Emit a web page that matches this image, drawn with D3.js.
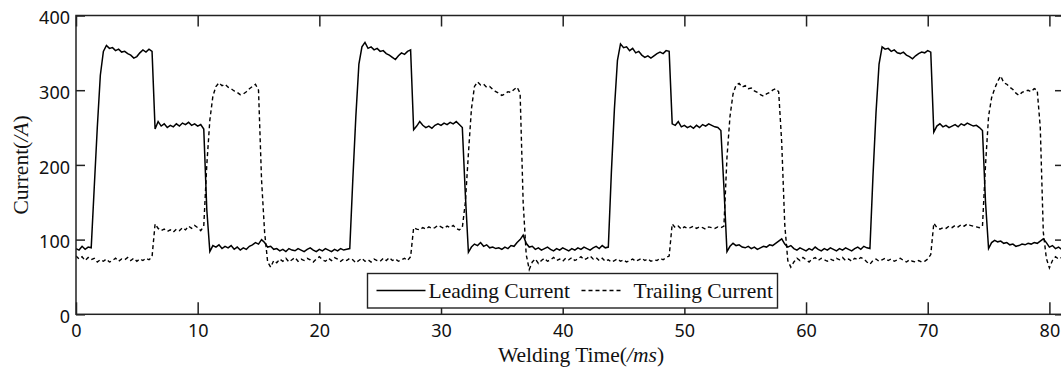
<!DOCTYPE html>
<html><head><meta charset="utf-8">
<script src="https://cdn.jsdelivr.net/npm/d3@7"></script>
<style>body{margin:0;background:#fff;overflow:hidden}</style>
</head><body><svg id="c" width="1061" height="369"></svg>
<script>
// sampling interval of both records, in ms (first sample at t = 0)
const sampleStep = 0.25;

const leadingCurrent = [
  88, 86, 91, 87, 90, 89, 170, 250, 320, 352, 360, 356, 357, 353, 355, 351, 352, 349, 347, 343,
  345, 350, 354, 351, 355, 352, 248, 258, 252, 255, 250, 253, 251, 255, 252, 256, 254, 257, 253, 255,
  252, 254, 248, 140, 84, 92, 90, 93, 88, 91, 89, 92, 87, 90, 86, 89, 87, 91, 93, 96,
  94, 100, 96, 90, 91, 87, 88, 85, 87, 84, 88, 86, 85, 88, 86, 84, 87, 89, 86, 84,
  87, 85, 88, 86, 84, 87, 85, 88, 86, 87, 88, 180, 265, 335, 358, 364, 356, 358, 354, 356,
  352, 353, 349, 347, 344, 341, 346, 350, 348, 352, 354, 247, 252, 258, 253, 250, 252, 249, 253, 255,
  253, 256, 254, 257, 255, 258, 254, 250, 160, 83, 90, 94, 92, 96, 91, 93, 89, 90, 88, 89,
  87, 90, 88, 92, 91, 96, 100, 106, 95, 90, 91, 87, 89, 86, 88, 90, 87, 85, 88, 86,
  89, 87, 85, 88, 86, 89, 87, 90, 88, 86, 89, 91, 88, 92, 89, 90, 190, 275, 340, 362,
  357, 358, 353, 356, 350, 352, 347, 344, 346, 343, 346, 349, 351, 349, 353, 352, 255, 253, 258, 251,
  253, 250, 252, 249, 253, 250, 254, 252, 255, 253, 251, 250, 246, 170, 84, 91, 95, 92, 93, 90,
  89, 91, 88, 90, 87, 89, 91, 90, 93, 92, 95, 98, 101, 94, 90, 92, 88, 86, 89, 87,
  85, 88, 86, 90, 87, 85, 88, 86, 89, 87, 85, 88, 86, 89, 87, 85, 88, 90, 87, 91,
  89, 88, 185, 270, 335, 358, 355, 356, 352, 354, 350, 349, 351, 347, 345, 342, 346, 349, 351, 350,
  353, 351, 244, 252, 255, 251, 253, 250, 252, 254, 251, 255, 253, 256, 254, 252, 253, 250, 246, 150,
  88, 96, 99, 97, 98, 95, 96, 93, 94, 91, 92, 94, 93, 95, 94, 96, 95, 98, 101, 96,
  90, 92, 88, 90, 87
];

const trailingCurrent = [
  78, 74, 77, 72, 76, 73, 75, 70, 73, 71, 74, 70, 72, 75, 71, 74, 73, 76, 72, 75,
  71, 74, 72, 75, 73, 77, 121, 115, 112, 114, 111, 113, 110, 114, 112, 116, 113, 118, 115, 119,
  116, 112, 118, 200, 260, 292, 305, 310, 306, 308, 304, 302, 299, 297, 294, 295, 298, 302, 305, 308,
  300, 180, 110, 70, 63, 72, 69, 74, 71, 75, 70, 73, 76, 71, 74, 72, 75, 73, 70, 74,
  77, 73, 71, 75, 72, 76, 74, 71, 74, 72, 75, 73, 69, 72, 75, 71, 73, 70, 74, 72,
  71, 75, 72, 76, 72, 74, 71, 73, 75, 72, 77, 116, 114, 113, 116, 114, 117, 115, 116, 119,
  117, 115, 118, 116, 119, 115, 113, 116, 150, 215, 275, 305, 311, 307, 308, 304, 305, 301, 298, 296,
  293, 295, 298, 297, 301, 304, 296, 150, 80, 60, 70, 74, 68, 72, 75, 71, 73, 76, 72, 74,
  71, 75, 73, 76, 72, 74, 77, 73, 75, 78, 74, 76, 72, 75, 71, 73, 70, 72, 74, 71,
  73, 70, 72, 74, 71, 73, 75, 72, 74, 71, 73, 72, 75, 73, 76, 78, 121, 116, 118, 114,
  117, 115, 116, 118, 115, 117, 116, 114, 117, 116, 115, 117, 116, 118, 210, 265, 295, 307, 309, 304,
  306, 302, 303, 299, 297, 294, 292, 295, 297, 300, 302, 298, 230, 120, 72, 63, 70, 75, 72, 76,
  73, 70, 74, 76, 72, 75, 73, 71, 74, 72, 75, 73, 76, 72, 74, 71, 75, 73, 76, 74,
  70, 67, 72, 74, 71, 73, 75, 72, 74, 71, 73, 75, 72, 70, 73, 71, 70, 72, 70, 71,
  74, 80, 122, 116, 114, 116, 115, 118, 116, 119, 117, 120, 118, 121, 119, 118, 117, 116, 118, 200,
  265, 290, 302, 312, 319, 310, 308, 304, 301, 296, 293, 297, 299, 300, 298, 302, 300, 250, 110, 75,
  62, 72, 77, 74, 76
];

const xTicks = [0, 10, 20, 30, 40, 50, 60, 70, 80];
const yTicks = [0, 100, 200, 300, 400];
const xDomain = [0, 81.2];
const yDomain = [0, 400];
const seriesNames = ["Leading Current", "Trailing Current"];

const svg = d3.select("#c");
const axisColor = "#222";
const tickFont = "'Noto Sans', sans-serif";
const serif = "'Liberation Serif', 'Times New Roman', serif";

const x = d3.scaleLinear().domain(xDomain).range([76, 1064]);
const y = d3.scaleLinear().domain(yDomain).range([314.3, 15.5]);

svg.append("clipPath").attr("id", "pc").append("rect")
  .attr("x", x(xDomain[0])).attr("y", y(yDomain[1]))
  .attr("width", x(xDomain[1]) - x(xDomain[0])).attr("height", y(yDomain[0]) - y(yDomain[1]));

// data lines
const toPts = arr => arr.map((v, i) => [i * sampleStep, v]);
const line = d3.line().x(d => x(d[0])).y(d => y(d[1]));
const plot = svg.append("g").attr("clip-path", "url(#pc)");
plot.append("path").attr("d", line(toPts(trailingCurrent)))
  .attr("fill", "none").attr("stroke", "#000").attr("stroke-width", 1.4)
  .attr("stroke-dasharray", "4,3");
plot.append("path").attr("d", line(toPts(leadingCurrent)))
  .attr("fill", "none").attr("stroke", "#000").attr("stroke-width", 1.5);

// axes
function styleTicks(g) {
  g.select(".domain").remove();
  g.selectAll("line").attr("stroke", axisColor).attr("stroke-width", 1.5);
}
const bottom = svg.append("g").attr("transform", `translate(0,${y(0)})`)
  .call(d3.axisBottom(x).tickValues(xTicks).tickSize(-12).tickFormat(d3.format("d")))
  .call(styleTicks);
bottom.selectAll("text").attr("y", 23.2).attr("dy", 0)
  .attr("font-family", tickFont).attr("font-size", 18).attr("fill", "#111");

svg.append("g").attr("transform", `translate(0,${y(yDomain[1])})`)
  .call(d3.axisTop(x).tickValues(xTicks).tickSize(-11).tickFormat(""))
  .call(styleTicks);

const left = svg.append("g").attr("transform", `translate(${x(0)},0)`)
  .call(d3.axisLeft(y).tickValues(yTicks).tickSize(-9).tickFormat(d3.format("d")))
  .call(styleTicks);
left.selectAll("text").attr("x", -6).attr("dy", "0.45em")
  .attr("font-family", tickFont).attr("font-size", 18).attr("fill", "#111");

svg.append("g").attr("transform", `translate(${x(xDomain[1])},0)`)
  .call(d3.axisRight(y).tickValues(yTicks).tickSize(-9).tickFormat(""))
  .call(styleTicks);

// frame
svg.append("rect")
  .attr("x", x(xDomain[0])).attr("y", y(yDomain[1]))
  .attr("width", x(xDomain[1]) - x(xDomain[0])).attr("height", y(yDomain[0]) - y(yDomain[1]))
  .attr("fill", "none").attr("stroke", axisColor).attr("stroke-width", 1.5);

// axis titles
const xt = svg.append("text").attr("x", 581).attr("y", 362).attr("text-anchor", "middle")
  .attr("font-family", serif).attr("font-size", 21.5).attr("fill", "#111");
xt.append("tspan").text("Welding Time(");
xt.append("tspan").attr("font-style", "italic").text("/ms");
xt.append("tspan").text(")");

const yt = svg.append("text").attr("transform", "translate(28,165) rotate(-90)")
  .attr("text-anchor", "middle")
  .attr("font-family", serif).attr("font-size", 21.5).attr("fill", "#111");
yt.append("tspan").text("Current(");
yt.append("tspan").attr("font-style", "italic").text("/A");
yt.append("tspan").text(")");

// legend
const lg = svg.append("g").attr("transform", "translate(367.5,273.5)");
lg.append("rect").attr("width", 410).attr("height", 34.5)
  .attr("fill", "#fff").attr("stroke", axisColor).attr("stroke-width", 1.4);
const entries = [
  {name: seriesNames[0], x0: 9, x1: 58, tx: 61, dash: null},
  {name: seriesNames[1], x0: 214, x1: 256, tx: 266, dash: "4,3"}
];
entries.forEach(e => {
  lg.append("line").attr("x1", e.x0).attr("x2", e.x1).attr("y1", 17).attr("y2", 17)
    .attr("stroke", "#000").attr("stroke-width", 1.4)
    .attr("stroke-dasharray", e.dash);
  lg.append("text").attr("x", e.tx).attr("y", 24)
    .attr("font-family", serif).attr("font-size", 21.5).attr("fill", "#111").text(e.name);
});
</script>
</body></html>
